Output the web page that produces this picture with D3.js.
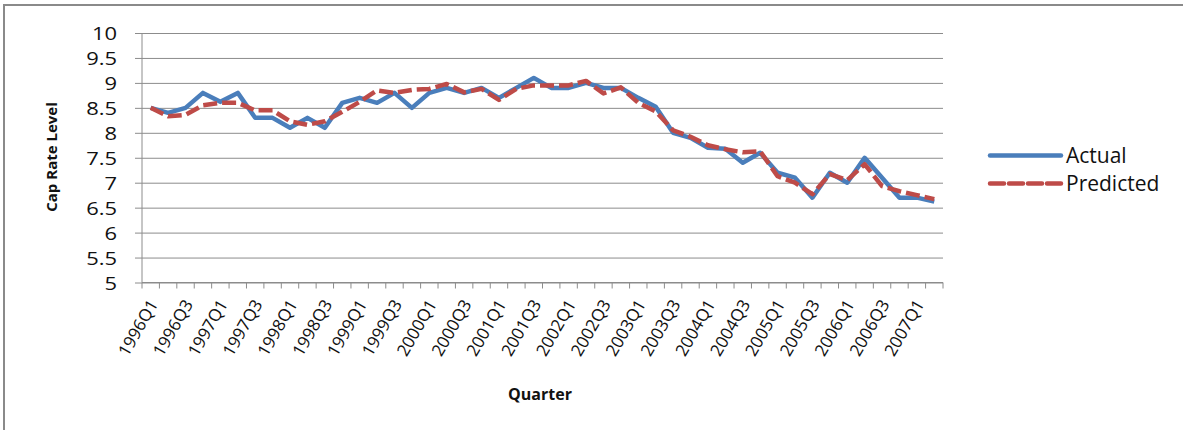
<!DOCTYPE html>
<html>
<head>
<meta charset="utf-8">
<script src="https://cdn.jsdelivr.net/npm/d3@7"></script>
<style>
  body { margin: 0; background: #fff; }
  svg { display: block; font-family: "Open Sans", sans-serif; }
</style>
</head>
<body>
<script>
// quarters 1996Q1 .. 2007Q2
var quarters = [];
for (var yr = 1996; yr <= 2007; yr++) {
  for (var q = 1; q <= 4; q++) {
    if (yr == 2007 && q > 2) break;
    quarters.push(yr + "Q" + q);
  }
}

var actual = [8.5, 8.4, 8.5, 8.8, 8.62, 8.8, 8.3, 8.3, 8.1, 8.3, 8.1, 8.6,
  8.7, 8.6, 8.8, 8.5, 8.8, 8.9, 8.8, 8.9, 8.7, 8.9, 9.1, 8.9,
  8.9, 9.0, 8.9, 8.9, 8.7, 8.52, 8.0, 7.9, 7.7, 7.68, 7.4, 7.6,
  7.2, 7.1, 6.7, 7.2, 7.0, 7.5, 7.1, 6.7, 6.7, 6.62];

var predicted = [8.5, 8.33, 8.36, 8.55, 8.6, 8.6, 8.45, 8.45, 8.23, 8.16, 8.23, 8.42,
  8.62, 8.85, 8.8, 8.86, 8.88, 8.98, 8.81, 8.88, 8.66, 8.88, 8.95, 8.95,
  8.95, 9.04, 8.79, 8.91, 8.6, 8.43, 8.05, 7.92, 7.75, 7.67, 7.61, 7.63,
  7.13, 7.0, 6.77, 7.17, 7.05, 7.37, 6.93, 6.83, 6.75, 6.67];

var yTicks = [5, 5.5, 6, 6.5, 7, 7.5, 8, 8.5, 9, 9.5, 10];

var svg = d3.select("body").append("svg")
  .attr("width", 1183)
  .attr("height", 430);

// chart border
svg.append("rect")
  .attr("x", 4).attr("y", 5)
  .attr("width", 1200).attr("height", 450)
  .attr("fill", "#fff")
  .attr("stroke", "#8a8a8a")
  .attr("stroke-width", 2);

var pLeft = 142, pRight = 943, pTop = 33, pBottom = 282.5;

var x = d3.scaleBand()
  .domain(quarters)
  .range([pLeft, pRight]);

var y = d3.scaleLinear()
  .domain([5, 10])
  .range([pBottom, pTop]);

function cx(d, i) { return x(quarters[i]) + x.bandwidth() / 2; }

// gridlines + y labels
var yAxis = d3.axisLeft(y)
  .tickValues(yTicks)
  .tickSize(-(pRight - pLeft))
  .tickSizeOuter(0)
  .tickPadding(0)
  .tickFormat(function(d){ return d; });

var gy = svg.append("g")
  .attr("transform", "translate(" + pLeft + ",0)")
  .call(yAxis);
gy.select(".domain").remove();
gy.selectAll(".tick line")
  .attr("x1", -7)
  .attr("stroke", "#8c8c8c");
gy.selectAll(".tick text")
  .attr("x", null)
  .attr("dy", null)
  .attr("text-anchor", "end")
  .attr("font-size", 18)
  .attr("fill", "#111")
  .attr("font-family", "Open Sans")
  .attr("transform", "translate(-25,6.5) scale(1.22,1)");

// y axis line
svg.append("line")
  .attr("x1", pLeft).attr("x2", pLeft)
  .attr("y1", pTop).attr("y2", pBottom)
  .attr("stroke", "#8c8c8c");

// x axis line and ticks between categories
svg.append("line")
  .attr("x1", pLeft).attr("x2", pRight)
  .attr("y1", pBottom).attr("y2", pBottom)
  .attr("stroke", "#8c8c8c");

svg.selectAll(".xtick")
  .data(d3.range(quarters.length + 1))
  .enter()
  .append("line")
  .attr("class", "xtick")
  .attr("x1", function(d){ return pLeft + d * x.step(); })
  .attr("x2", function(d){ return pLeft + d * x.step(); })
  .attr("y1", pBottom)
  .attr("y2", pBottom + 6)
  .attr("stroke", "#8c8c8c");

// x labels, every other quarter
svg.selectAll(".xlabel")
  .data(quarters.filter(function(d, i){ return i % 2 == 0; }))
  .enter()
  .append("text")
  .attr("class", "xlabel")
  .attr("text-anchor", "end")
  .attr("font-size", 17)
  .attr("fill", "#111")
  .attr("transform", function(d){
    return "translate(" + (x(d) + x.bandwidth() / 2 + 8) + ",304) rotate(-60)";
  })
  .text(function(d){ return d; });

// axis titles
svg.append("text")
  .attr("transform", "translate(57,157) rotate(-90)")
  .attr("text-anchor", "middle")
  .attr("font-size", 15)
  .attr("font-weight", "bold")
  .attr("fill", "#111")
  .text("Cap Rate Level");

svg.append("text")
  .attr("x", 540)
  .attr("y", 400)
  .attr("text-anchor", "middle")
  .attr("font-size", 16)
  .attr("font-weight", "bold")
  .attr("fill", "#111")
  .text("Quarter");

// lines
var line = d3.line()
  .x(cx)
  .y(function(d){ return y(d); });

svg.append("path")
  .datum(actual)
  .attr("fill", "none")
  .attr("stroke", "#4a7ebb")
  .attr("stroke-width", 4.5)
  .attr("stroke-linejoin", "round")
  .attr("d", line);

svg.append("path")
  .datum(predicted)
  .attr("fill", "none")
  .attr("stroke", "#be4b48")
  .attr("stroke-width", 4.5)
  .attr("stroke-dasharray", "14,5")
  .attr("stroke-linejoin", "round")
  .attr("d", line);

// legend
var legend = [
  {name: "Actual", color: "#4a7ebb", dash: null, y: 155.5},
  {name: "Predicted", color: "#be4b48", dash: "14,5", y: 183.5}
];
var lg = svg.selectAll(".legend")
  .data(legend)
  .enter()
  .append("g");
lg.append("line")
  .attr("x1", 990).attr("x2", 1061)
  .attr("y1", function(d){ return d.y; })
  .attr("y2", function(d){ return d.y; })
  .attr("stroke", function(d){ return d.color; })
  .attr("stroke-width", 4.5)
  .attr("stroke-linecap", "round")
  .attr("stroke-dasharray", function(d){ return d.dash; });
lg.append("text")
  .attr("x", 1066)
  .attr("y", function(d){ return d.y + 7.5; })
  .attr("font-size", 21)
  .attr("fill", "#111")
  .text(function(d){ return d.name; });
</script>
</body>
</html>
